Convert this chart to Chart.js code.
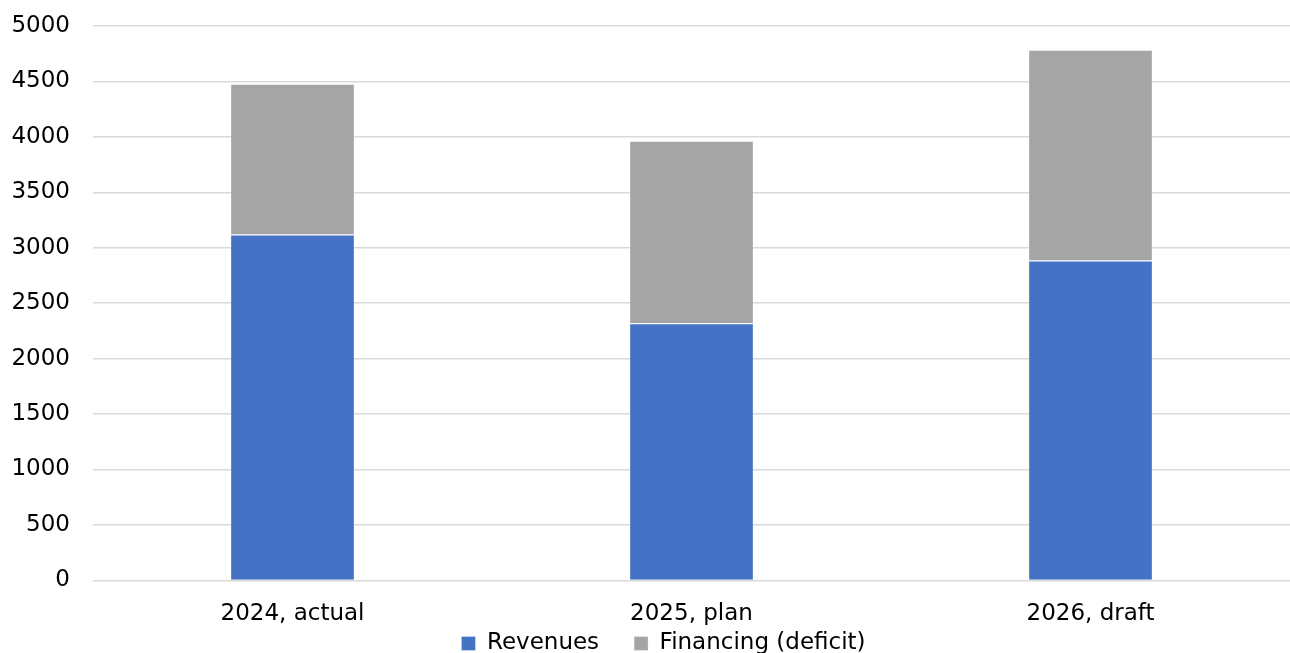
<!DOCTYPE html>
<html>
<head>
<meta charset="utf-8">
<script src="https://cdn.jsdelivr.net/npm/chart.js@4/dist/chart.umd.min.js"></script>
<style>
    html, body { margin: 0; padding: 0; background: #fff; overflow: hidden; }
    #wrap { position: relative; width: 1290px; height: 716px; }
</style>
</head>
<body>
<div id="wrap"><canvas id="myChart"></canvas></div>
<script>
var categories = ["2024, actual", "2025, plan", "2026, draft"];
var revenues = [3120, 2320, 2885];
var financing = [1360, 1645, 1900];
var yTicks = [0, 500, 1000, 1500, 2000, 2500, 3000, 3500, 4000, 4500, 5000];

var font = { family: "'DejaVu Sans', Verdana, sans-serif", size: 23 };

// pull the legend up closer to the category labels
var liftLegend = {
    id: 'liftLegend',
    afterLayout: function (chart) {
        var lg = chart.legend;
        lg.top -= 51;
        lg.bottom -= 51;
        lg.left += 14;
        lg.right += 14;
    }
};

new Chart("myChart", {
    type: 'bar',
    data: {
        labels: categories,
        datasets: [{
            label: 'Revenues',
            data: revenues,
            backgroundColor: '#4472C4',
            borderColor: 'rgba(255, 255, 255, 0.3)',
            borderWidth: 1
        }, {
            label: 'Financing (deficit)',
            data: financing,
            backgroundColor: '#A5A5A5',
            borderColor: 'rgba(255, 255, 255, 0.3)',
            borderWidth: 1
        }]
    },
    plugins: [liftLegend],
    options: {
        responsive: true,
        maintainAspectRatio: false,
        animation: false,
        datasets: {
            bar: { barPercentage: 0.3125, categoryPercentage: 1 }
        },
        layout: { padding: { left: 9, right: 0, top: 26, bottom: 0 } },
        scales: {
            x: {
                stacked: true,
                grid: { display: false, drawTicks: false },
                border: { display: false },
                ticks: { color: '#000', font: font, padding: 20 }
            },
            y: {
                stacked: true,
                min: 0,
                max: 5000,
                afterBuildTicks: function (scale) {
                    scale.ticks = yTicks.map(function (v) { return { value: v }; });
                },
                afterFit: function (scale) {
                    scale.width = 84;
                    scale.paddingTop = 0;
                },
                grid: { color: '#D9D9D9', lineWidth: 1.5, drawTicks: false },
                border: { display: false },
                ticks: {
                    color: '#000',
                    font: font,
                    padding: 23,
                    callback: function (value) { return String(value); }
                }
            }
        },
        plugins: {
            legend: {
                position: 'bottom',
                labels: {
                    color: '#000',
                    font: font,
                    boxWidth: 14,
                    boxHeight: 14,
                    padding: 35
                }
            },
            tooltip: { enabled: false }
        }
    }
});
</script>
</body>
</html>
